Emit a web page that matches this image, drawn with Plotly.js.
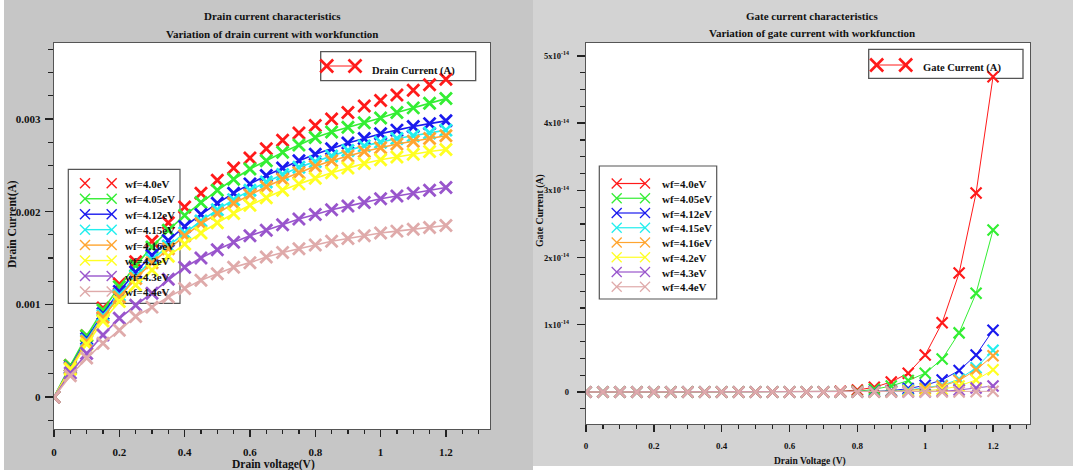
<!DOCTYPE html>
<html><head><meta charset="utf-8">
<script src="https://cdn.plot.ly/plotly-3.0.1.min.js"></script>
<style>html,body{margin:0;padding:0;background:#fff}#chart{width:1073px;height:470px}</style>
</head><body><div id="chart"></div>
<script>
// ---------- data ----------
const voltage = [0,0.05,0.1,0.15,0.2,0.25,0.3,0.35,0.4,0.45,0.5,0.55,0.6,0.65,0.7,0.75,0.8,0.85,0.9,0.95,1.0,1.05,1.1,1.15,1.2];
const seriesNames = ['wf=4.0eV','wf=4.05eV','wf=4.12eV','wf=4.15eV','wf=4.16eV','wf=4.2eV','wf=4.3eV','wf=4.4eV'];
const seriesColors = ['#ff1a1a','#33ee33','#1a1aee','#22eeee','#ffa530','#ffff22','#9955cc','#dfaaaa'];

// Drain current (A)
const drainWf400 = [0,0.00034,0.00066,0.00096,0.00122,0.00146,0.00168,0.00188,0.00205,0.00220,0.00234,0.00247,0.00258,0.00268,0.00277,0.00285,0.00293,0.00300,0.00307,0.00314,0.00320,0.00326,0.00331,0.00337,0.00343];
const drainWf405 = [0,0.00034,0.00066,0.00094,0.00119,0.00142,0.00162,0.00180,0.00196,0.00210,0.00223,0.00235,0.00246,0.00255,0.00264,0.00272,0.00280,0.00286,0.00291,0.00296,0.00301,0.00307,0.00312,0.00317,0.00322];
const drainWf412 = [0,0.00032,0.00063,0.00090,0.00114,0.00135,0.00153,0.00169,0.00184,0.00197,0.00209,0.00220,0.00230,0.00239,0.00247,0.00255,0.00262,0.00268,0.00274,0.00279,0.00284,0.00288,0.00292,0.00295,0.00298];
const drainWf415 = [0,0.00031,0.00061,0.00088,0.00110,0.00130,0.00148,0.00163,0.00177,0.00190,0.00202,0.00213,0.00223,0.00232,0.00240,0.00248,0.00254,0.00260,0.00266,0.00271,0.00275,0.00279,0.00282,0.00285,0.00288];
const drainWf416 = [0,0.00031,0.00060,0.00086,0.00108,0.00128,0.00145,0.00160,0.00174,0.00187,0.00198,0.00209,0.00218,0.00227,0.00235,0.00242,0.00249,0.00255,0.00260,0.00265,0.00269,0.00273,0.00276,0.00279,0.00282];
const drainWf420 = [0,0.00030,0.00057,0.00082,0.00103,0.00121,0.00137,0.00152,0.00165,0.00177,0.00188,0.00198,0.00207,0.00215,0.00223,0.00230,0.00236,0.00242,0.00247,0.00252,0.00256,0.00259,0.00262,0.00265,0.00267];
const drainWf430 = [0,0.00026,0.00047,0.00067,0.00085,0.00099,0.00112,0.00127,0.00140,0.00150,0.00159,0.00167,0.00174,0.00180,0.00186,0.00192,0.00197,0.00202,0.00206,0.00210,0.00214,0.00217,0.00220,0.00223,0.00226];
const drainWf440 = [0,0.00023,0.00042,0.00058,0.00072,0.00087,0.00097,0.00108,0.00117,0.00126,0.00133,0.00140,0.00145,0.00151,0.00156,0.00160,0.00164,0.00168,0.00171,0.00174,0.00177,0.00179,0.00181,0.00183,0.00185];

// Gate current (A)
const gateWf400 = [0,0,0,0,0,0,0,0,0,0,0,0,0,0,0,0.01e-14,0.03e-14,0.07e-14,0.15e-14,0.28e-14,0.55e-14,1.03e-14,1.77e-14,2.96e-14,4.69e-14];
const gateWf405 = [0,0,0,0,0,0,0,0,0,0,0,0,0,0,0,0,0.01e-14,0.04e-14,0.09e-14,0.17e-14,0.28e-14,0.49e-14,0.88e-14,1.47e-14,2.41e-14];
const gateWf412 = [0,0,0,0,0,0,0,0,0,0,0,0,0,0,0,0,0,0.01e-14,0.02e-14,0.05e-14,0.10e-14,0.18e-14,0.32e-14,0.55e-14,0.92e-14];
const gateWf415 = [0,0,0,0,0,0,0,0,0,0,0,0,0,0,0,0,0,0,0.01e-14,0.03e-14,0.06e-14,0.10e-14,0.19e-14,0.36e-14,0.62e-14];
const gateWf416 = [0,0,0,0,0,0,0,0,0,0,0,0,0,0,0,0,0,0,0.01e-14,0.02e-14,0.05e-14,0.09e-14,0.17e-14,0.33e-14,0.54e-14];
const gateWf420 = [0,0,0,0,0,0,0,0,0,0,0,0,0,0,0,0,0,0,0,0.01e-14,0.02e-14,0.04e-14,0.09e-14,0.18e-14,0.33e-14];
const gateWf430 = [0,0,0,0,0,0,0,0,0,0,0,0,0,0,0,0,0,0,0,0,0,0.01e-14,0.03e-14,0.06e-14,0.09e-14];
const gateWf440 = [0,0,0,0,0,0,0,0,0,0,0,0,0,0,0,0,0,0,0,0,0,0,0,0.005e-14,0.01e-14];

const drainTickVals = [0,0.001,0.002,0.003];
const gateTickVals = [0,1e-14,2e-14,3e-14,4e-14,5e-14];
const gateTickText = ['0','1x10<sup>-14</sup>','2x10<sup>-14</sup>','3x10<sup>-14</sup>','4x10<sup>-14</sup>','5x10<sup>-14</sup>'];
const voltTickVals = [0,0.2,0.4,0.6,0.8,1,1.2];

const drainSeries = [drainWf400,drainWf405,drainWf412,drainWf415,drainWf416,drainWf420,drainWf430,drainWf440];
const gateSeries = [gateWf400,gateWf405,gateWf412,gateWf415,gateWf416,gateWf420,gateWf430,gateWf440];

// ---------- helpers ----------
const W = 1073, H = 470;
const fx = v => v / W, fy = v => 1 - v / H;
const FONT = 'Liberation Serif, Times New Roman, serif';

const traces = [];
drainSeries.forEach((ys, i) => {
  traces.push({
    x: voltage, y: ys, xaxis: 'x', yaxis: 'y', name: seriesNames[i],
    mode: i === 0 ? 'markers' : 'lines+markers',
    line: {color: seriesColors[i], width: 1.6},
    marker: {symbol: 'x-thin', size: 12, line: {color: seriesColors[i], width: 2.8}},
    showlegend: false, hoverinfo: 'x+y'
  });
});
gateSeries.forEach((ys, i) => {
  traces.push({
    x: voltage, y: ys, xaxis: 'x2', yaxis: 'y2', name: seriesNames[i],
    mode: 'lines+markers',
    line: {color: seriesColors[i], width: 1},
    marker: {symbol: 'x-thin', size: 11, line: {color: seriesColors[i], width: 2.2}},
    showlegend: false, hoverinfo: 'x+y'
  });
});

const shapes = [];
const annotations = [];
function rectPx(x0, y0, x1, y1, fill, lineColor, lw) {
  shapes.push({type: 'rect', xref: 'paper', yref: 'paper', layer: 'below',
    x0: fx(x0), x1: fx(x1), y0: fy(y1), y1: fy(y0),
    fillcolor: fill, line: {color: lineColor || 'rgba(0,0,0,0)', width: lw || 0}});
}
function linePx(x0, y0, x1, y1, color, lw) {
  shapes.push({type: 'line', xref: 'paper', yref: 'paper', layer: 'below',
    x0: fx(x0), x1: fx(x1), y0: fy(y0), y1: fy(y1), line: {color: color, width: lw}});
}
function xMark(cx, cy, r, color, lw) {
  linePx(cx - r, cy - r, cx + r, cy + r, color, lw);
  linePx(cx - r, cy + r, cx + r, cy - r, color, lw);
}
function textPx(x, y, text, size, anchor, angle) {
  annotations.push({xref: 'paper', yref: 'paper', x: fx(x), y: fy(y), text: text, showarrow: false,
    xanchor: anchor || 'center', yanchor: 'middle', textangle: angle || 0,
    font: {family: FONT, size: size, color: '#111', weight: 'bold'}});
}

// panels
rectPx(4, 0, 533, 470, '#c6c6c6');
rectPx(533, 0, 1073, 466, '#d3d3d3');
rectPx(54, 43, 490, 429, '#ffffff');
rectPx(586, 43, 1030, 424, '#ffffff');

// titles
textPx(272, 16, 'Drain current characteristics', 11);
textPx(272, 34, 'Variation of drain current with workfunction', 11);
textPx(812, 16, 'Gate current characteristics', 11);
textPx(812, 33, 'Variation of gate current with workfunction', 11);
// axis titles
textPx(273, 464, 'Drain voltage(V)', 11.5);
textPx(12, 224, 'Drain Current(A)', 11.5, 'center', -90);
textPx(810, 461, 'Drain Voltage (V)', 9.5);
textPx(540, 211, 'Gate Current (A)', 9.8, 'center', -90);

// top legends
rectPx(320.7, 51.7, 475.7, 80.7, 'rgba(0,0,0,0)', '#555', 1.3);
linePx(326.7, 66, 355, 66, seriesColors[0], 1);
xMark(326.7, 66, 6.5, seriesColors[0], 2.6);
xMark(355, 66, 6.5, seriesColors[0], 2.6);
textPx(370, 70.5, 'Drain Current (A)', 10.5, 'left');

rectPx(868.7, 49.3, 1023, 78.3, 'rgba(0,0,0,0)', '#555', 1.3);
linePx(876.7, 65, 905.7, 65, seriesColors[0], 1);
xMark(876.7, 65, 6.5, seriesColors[0], 2.6);
xMark(905.7, 65, 6.5, seriesColors[0], 2.6);
textPx(921, 68, 'Gate Current (A)', 10.5, 'left');

// wf legends
rectPx(68.3, 169.3, 180, 303.3, 'rgba(0,0,0,0)', '#555', 1.2);
seriesNames.forEach((nm, i) => {
  const y = 183.3 + i * 15.45;
  if (i > 0) linePx(85, y, 111.7, y, seriesColors[i], 1.4);
  xMark(85, y, 5, seriesColors[i], 1.4);
  xMark(111.7, y, 5, seriesColors[i], 1.4);
  textPx(123.3, y + 0.5, nm, 11, 'left');
});
rectPx(599.3, 166, 716.7, 299, 'rgba(0,0,0,0)', '#555', 1.2);
seriesNames.forEach((nm, i) => {
  const y = 183.5 + i * 14.75;
  linePx(616.7, y, 645, y, seriesColors[i], 1.2);
  xMark(616.7, y, 5, seriesColors[i], 1.3);
  xMark(645, y, 5, seriesColors[i], 1.3);
  textPx(660, y + 0.5, nm, 11, 'left');
});

const axCommon = {
  showgrid: false, zeroline: false, showline: true, linecolor: '#555', linewidth: 1.4,
  mirror: true, ticks: 'outside', tickcolor: '#222', tickwidth: 1.4, fixedrange: true
};

const layout = {
  width: W, height: H,
  margin: {l: 0, r: 0, t: 0, b: 0},
  paper_bgcolor: '#ffffff', plot_bgcolor: 'rgba(0,0,0,0)',
  font: {family: FONT, color: '#111', weight: 'bold'},
  showlegend: false,
  xaxis: Object.assign({}, axCommon, {
    domain: [fx(54), fx(490)], range: [0, 1.335], anchor: 'y',
    tickvals: voltTickVals, ticklen: 7, ticklabelstandoff: 5,
    tickfont: {family: FONT, size: 11, weight: 'bold'},
    minor: {dtick: 0.05, ticklen: 4, tickcolor: '#222', tickwidth: 1.2, ticks: 'outside', showgrid: false}
  }),
  yaxis: Object.assign({}, axCommon, {
    domain: [fy(429), fy(43)], range: [-0.000345, 0.00382], anchor: 'x',
    tickvals: drainTickVals, ticklen: 8, ticklabelstandoff: 2,
    tickfont: {family: FONT, size: 11, weight: 'bold'},
    minor: {dtick: 0.00025, ticklen: 5, tickcolor: '#222', tickwidth: 1.2, ticks: 'outside', showgrid: false}
  }),
  xaxis2: Object.assign({}, axCommon, {
    domain: [fx(586), fx(1030)], range: [0, 1.309], anchor: 'y2',
    tickvals: voltTickVals, ticklen: 7, ticklabelstandoff: 6,
    tickfont: {family: FONT, size: 9, weight: 'bold'},
    minor: {dtick: 0.05, ticklen: 4, tickcolor: '#222', tickwidth: 1.1, ticks: 'outside', showgrid: false}
  }),
  yaxis2: Object.assign({}, axCommon, {
    domain: [fy(424), fy(43)], range: [-0.476e-14, 5.193e-14], anchor: 'x2',
    tickvals: gateTickVals, ticktext: gateTickText, ticklen: 8, ticklabelstandoff: 6,
    tickfont: {family: FONT, size: 8.5, weight: 'bold'},
    minor: {dtick: 0.25e-14, ticklen: 5, tickcolor: '#222', tickwidth: 1.1, ticks: 'outside', showgrid: false}
  }),
  shapes: shapes,
  annotations: annotations
};

Plotly.newPlot('chart', traces, layout, {displayModeBar: false, staticPlot: true});
</script>
</body></html>
